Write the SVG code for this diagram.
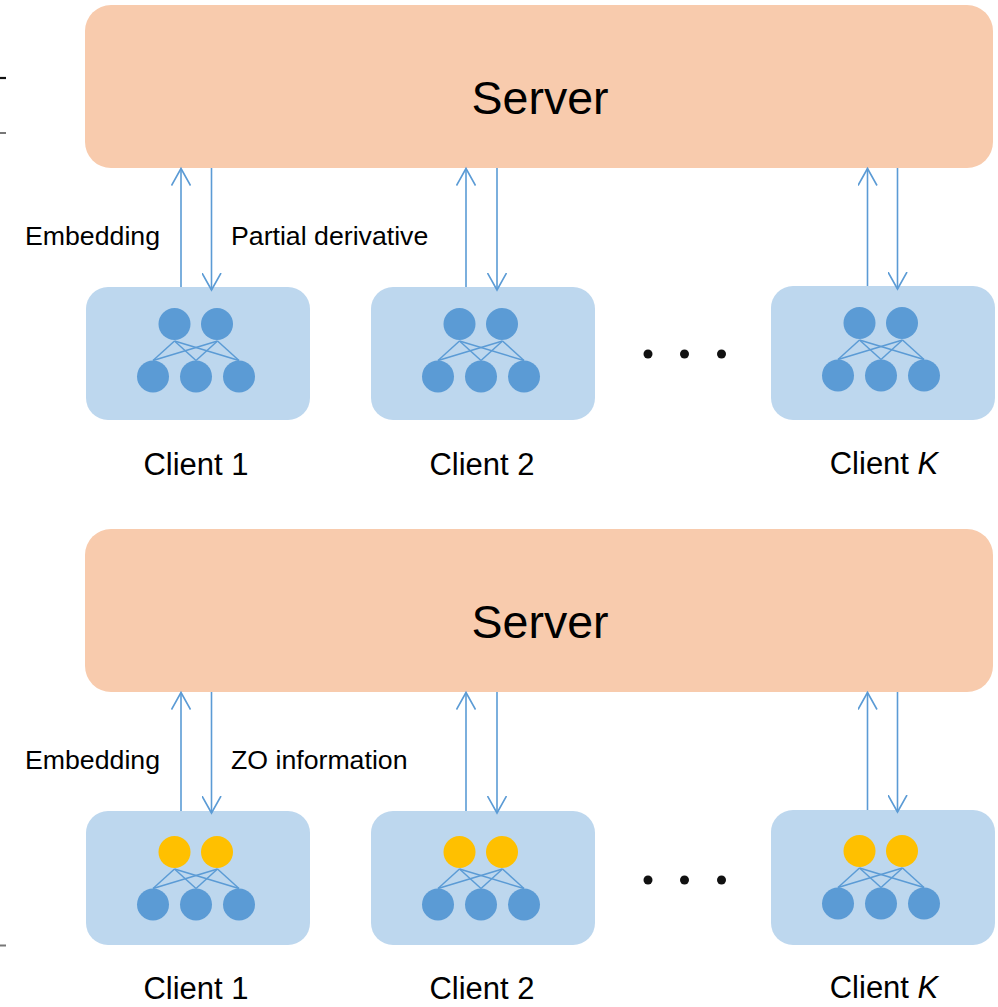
<svg xmlns="http://www.w3.org/2000/svg" width="998" height="1007" viewBox="0 0 998 1007">
<defs>
<style>
.server{fill:#F8CBAD}
.client{fill:#BDD7EE}
.nb{fill:#5B9BD5}
.ny{fill:#FFC000}
.edge{stroke:#5B9BD5;stroke-width:1.5;fill:none}
.arr{stroke:#5B9BD5;stroke-width:1.6;fill:none}
.t{font-family:"Liberation Sans",Arial,Helvetica,sans-serif;fill:#000}
.st{font-size:46.5px}
.lb{font-size:26.7px}
.cl{font-size:31px}
.dot{fill:#111}
</style>
<marker id="ah" viewBox="0 0 20 20" refX="17" refY="10" markerWidth="20" markerHeight="20" markerUnits="userSpaceOnUse" orient="auto">
<path d="M0,0.5 L17,10 L0,19.5" fill="none" stroke="#5B9BD5" stroke-width="1.6"/>
</marker>
<g id="netBlue">
<line class="edge" x1="-21.5" y1="17" x2="-43" y2="36.5"/>
<line class="edge" x1="-21.5" y1="17" x2="0" y2="36.5"/>
<line class="edge" x1="-21.5" y1="17" x2="43" y2="36.5"/>
<line class="edge" x1="21.5" y1="17" x2="-43" y2="36.5"/>
<line class="edge" x1="21.5" y1="17" x2="0" y2="36.5"/>
<line class="edge" x1="21.5" y1="17" x2="43" y2="36.5"/>
<circle class="nb" cx="-43" cy="52.5" r="16"/>
<circle class="nb" cx="0" cy="52.5" r="16"/>
<circle class="nb" cx="43" cy="52.5" r="16"/>
</g>
</defs>

<!-- left margin marks -->
<g id="marks">
<line x1="0" y1="78" x2="6" y2="78" stroke="#111" stroke-width="2.2"/>
<line x1="0" y1="133" x2="6" y2="133" stroke="#777" stroke-width="2"/>
<line x1="0" y1="945.5" x2="6" y2="945.5" stroke="#777" stroke-width="2"/>
</g>

<!-- ===== Top panel ===== -->
<g id="server1">
<rect class="server" x="85" y="5" width="908" height="163" rx="26"/>
<text class="t st" x="540" y="114" text-anchor="middle">Server</text>
</g>

<g id="client1-top">
<rect class="client" x="86" y="287" width="224" height="133" rx="22"/>
<circle class="nb" cx="174.5" cy="324" r="16"/>
<circle class="nb" cx="217" cy="324" r="16"/>
<use href="#netBlue" x="196" y="324"/>
<text class="t cl" x="196" y="475" text-anchor="middle">Client 1</text>
</g>

<g id="client2-top">
<rect class="client" x="371" y="287" width="224" height="133" rx="22"/>
<circle class="nb" cx="459.5" cy="324" r="16"/>
<circle class="nb" cx="502" cy="324" r="16"/>
<use href="#netBlue" x="481" y="324"/>
<text class="t cl" x="482" y="475" text-anchor="middle">Client 2</text>
</g>

<g id="clientK-top">
<rect class="client" x="771" y="286" width="224" height="134" rx="22"/>
<circle class="nb" cx="859.5" cy="323" r="16"/>
<circle class="nb" cx="902" cy="323" r="16"/>
<use href="#netBlue" x="881" y="323"/>
<text class="t cl" x="884" y="474" text-anchor="middle">Client <tspan font-style="italic">K</tspan></text>
</g>

<g id="dots-top">
<circle class="dot" cx="648" cy="354" r="4.5"/>
<circle class="dot" cx="684.5" cy="354" r="4.5"/>
<circle class="dot" cx="721.5" cy="354" r="4.5"/>
</g>

<g id="labels-top">
<text class="t lb" x="25" y="245">Embedding</text>
<text class="t lb" x="231" y="245">Partial derivative</text>
</g>

<!-- ===== Bottom panel ===== -->
<g id="server2">
<rect class="server" x="85" y="529" width="908" height="163" rx="26"/>
<text class="t st" x="540" y="638" text-anchor="middle">Server</text>
</g>

<g id="client1-bot">
<rect class="client" x="86" y="811" width="224" height="134" rx="22"/>
<use href="#netBlue" x="196" y="852"/>
<circle class="ny" cx="174.5" cy="852" r="16"/>
<circle class="ny" cx="217" cy="852" r="16"/>
<text class="t cl" x="196" y="999" text-anchor="middle">Client 1</text>
</g>

<g id="client2-bot">
<rect class="client" x="371" y="811" width="224" height="134" rx="22"/>
<use href="#netBlue" x="481" y="852"/>
<circle class="ny" cx="459.5" cy="852" r="16"/>
<circle class="ny" cx="502" cy="852" r="16"/>
<text class="t cl" x="482" y="999" text-anchor="middle">Client 2</text>
</g>

<g id="clientK-bot">
<rect class="client" x="771" y="810" width="224" height="135" rx="22"/>
<use href="#netBlue" x="881" y="851"/>
<circle class="ny" cx="859.5" cy="851" r="16"/>
<circle class="ny" cx="902" cy="851" r="16"/>
<text class="t cl" x="884" y="998" text-anchor="middle">Client <tspan font-style="italic">K</tspan></text>
</g>

<g id="dots-bot">
<circle class="dot" cx="648" cy="880" r="4.5"/>
<circle class="dot" cx="684.5" cy="880" r="4.5"/>
<circle class="dot" cx="721.5" cy="880" r="4.5"/>
</g>

<g id="labels-bot">
<text class="t lb" x="25" y="769">Embedding</text>
<text class="t lb" x="231" y="769">ZO information</text>
</g>

<!-- ===== Connectors ===== -->
<g id="connectors">
<line class="arr" x1="181" y1="287" x2="181" y2="168.5" marker-end="url(#ah)"/>
<line class="arr" x1="211.5" y1="168" x2="211.5" y2="290" marker-end="url(#ah)"/>
<line class="arr" x1="466" y1="287" x2="466" y2="168.5" marker-end="url(#ah)"/>
<line class="arr" x1="497" y1="168" x2="497" y2="290" marker-end="url(#ah)"/>
<line class="arr" x1="867.5" y1="286" x2="867.5" y2="168.5" marker-end="url(#ah)"/>
<line class="arr" x1="897.5" y1="168" x2="897.5" y2="289" marker-end="url(#ah)"/>

<line class="arr" x1="181" y1="811" x2="181" y2="692.5" marker-end="url(#ah)"/>
<line class="arr" x1="211.5" y1="692" x2="211.5" y2="813" marker-end="url(#ah)"/>
<line class="arr" x1="466" y1="811" x2="466" y2="692.5" marker-end="url(#ah)"/>
<line class="arr" x1="497" y1="692" x2="497" y2="813" marker-end="url(#ah)"/>
<line class="arr" x1="867.5" y1="810" x2="867.5" y2="692.5" marker-end="url(#ah)"/>
<line class="arr" x1="897.5" y1="692" x2="897.5" y2="812" marker-end="url(#ah)"/>
</g>
</svg>
